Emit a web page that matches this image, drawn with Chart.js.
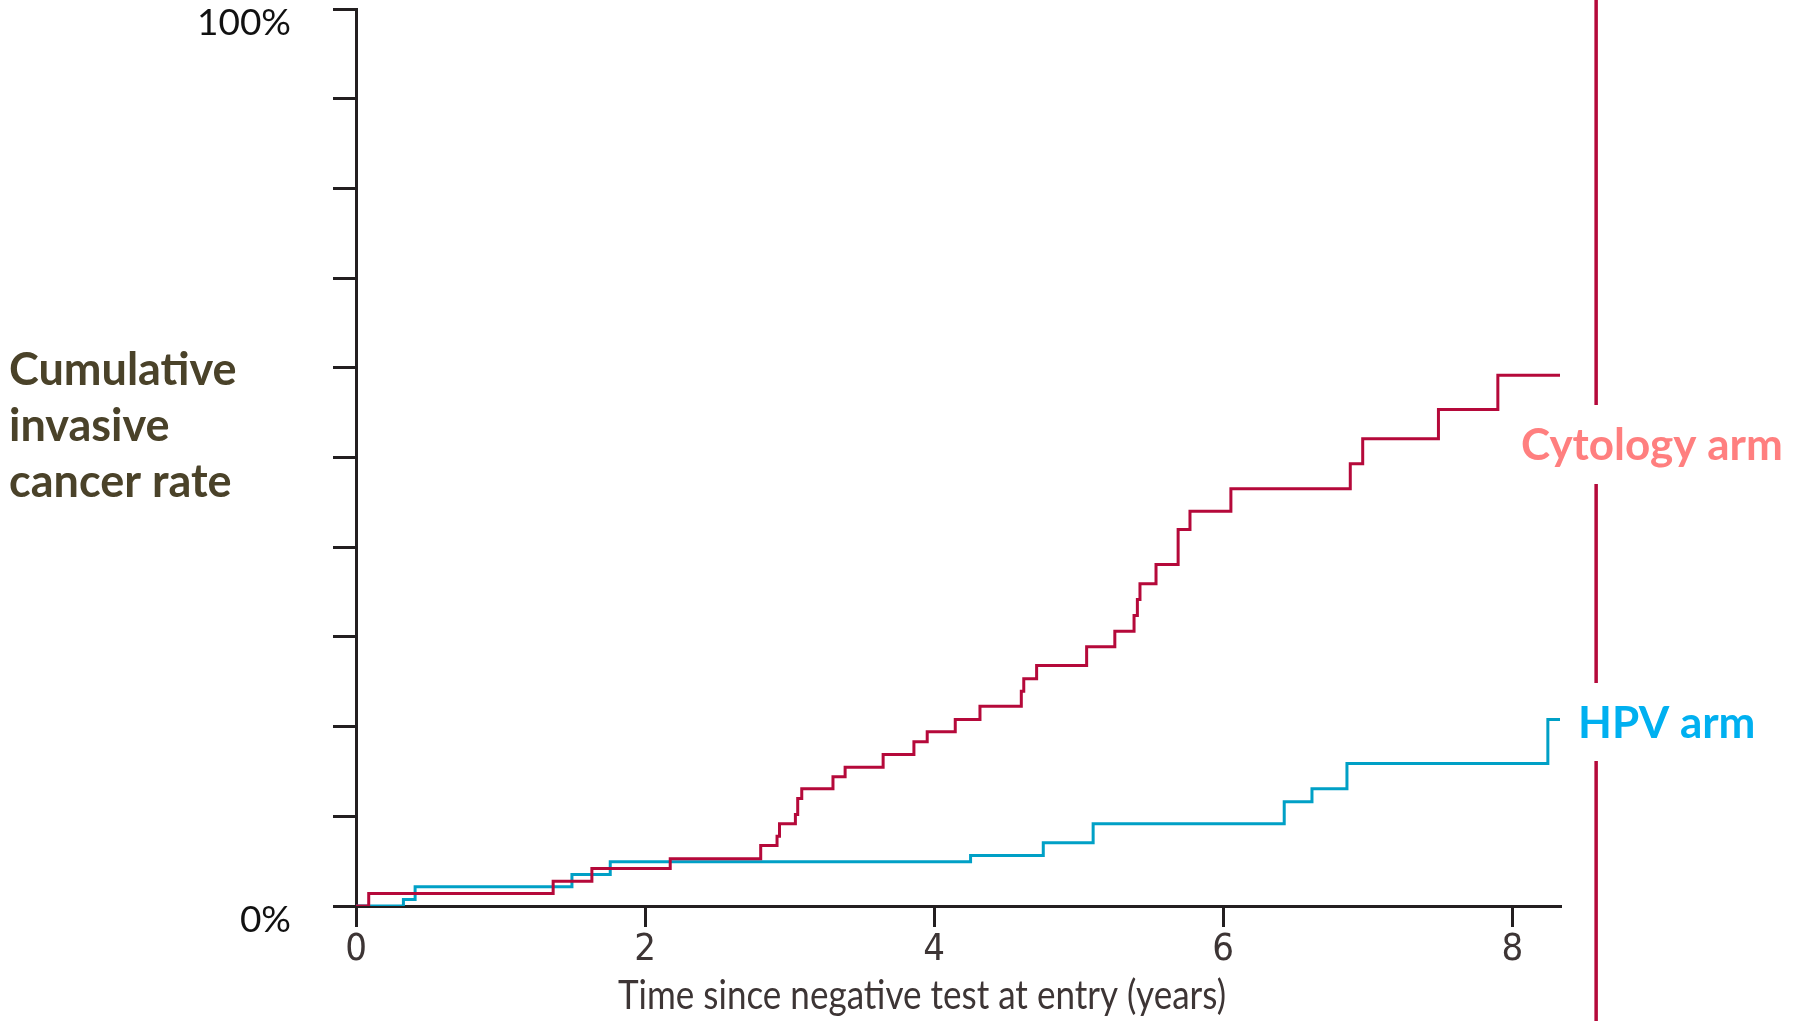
<!DOCTYPE html>
<html>
<head>
<meta charset="utf-8">
<script src="https://cdn.jsdelivr.net/npm/chart.js@4/dist/chart.umd.min.js"></script>
<style>
  html, body { margin: 0; padding: 0; background: #fff; }
  #wrap { width: 1804px; height: 1021px; position: relative; }
</style>
</head>
<body>
<div id="wrap"><canvas id="chart"></canvas></div>
<script>
// step times (years) and cumulative rate (% of axis)
const cytologyYears = [0, 0.088, 1.364, 1.632, 2.174, 2.80, 2.913, 2.93, 3.04, 3.056, 3.084, 3.30, 3.384, 3.647, 3.86, 3.952, 4.146, 4.317, 4.603, 4.62, 4.709, 5.055, 5.25, 5.383, 5.406, 5.424, 5.535, 5.688, 5.77, 6.053, 6.879, 6.965, 7.489, 7.90, 8.33];
const cytologyRate = [0, 1.39, 2.76, 4.18, 5.26, 6.74, 7.78, 9.16, 10.2, 11.98, 13.07, 14.4, 15.47, 16.89, 18.3, 19.42, 20.79, 22.27, 23.95, 25.33, 26.81, 28.9, 30.63, 32.39, 34.17, 35.92, 38.07, 41.97, 44.01, 46.51, 49.3, 52.08, 55.35, 59.17, 59.17];

const hpvYears = [0, 0.328, 0.409, 1.494, 1.759, 4.252, 4.755, 5.10, 6.422, 6.614, 6.856, 8.246, 8.33];
const hpvRate = [0, 0.72, 2.14, 3.51, 4.93, 5.63, 7.05, 9.16, 11.62, 13.07, 15.89, 20.79, 20.79];

const xTickValues = [0, 2, 4, 6, 8];
const yTickLabels = { 0: '0%', 100: '100%' };
const yAxisTitle = ['Cumulative', 'invasive', 'cancer rate'];
const xAxisTitle = 'Time since negative test at entry (years)';
const armLabels = ['Cytology arm', 'HPV arm'];
const armMarkerYear = 8.58;

const axisColor = '#231F20';
const redColor = '#B5093A';
const blueColor = '#00A0C6';

function toPoints(xs, ys) {
  return xs.map((x, i) => ({ x: x, y: ys[i] }));
}

const annotations = {
  id: 'annotations',
  afterDraw(chart) {
    const ctx = chart.ctx;
    const xScale = chart.scales.x;
    ctx.save();

    // left title
    ctx.fillStyle = '#4A4229';
    ctx.font = 'bold 45px Lato';
    ctx.textAlign = 'left';
    ctx.textBaseline = 'alphabetic';
    const baselines = [385, 441, 497];
    yAxisTitle.forEach((line, i) => ctx.fillText(line, 9, baselines[i]));

    // condensed x axis title
    ctx.font = '40px Lato';
    ctx.fillStyle = '#3d3535';
    const w = ctx.measureText(xAxisTitle).width;
    const sx = 608 / w;
    ctx.save();
    ctx.translate(922, 1009);
    ctx.scale(sx, 1);
    ctx.textAlign = 'center';
    ctx.fillText(xAxisTitle, 0, 0);
    ctx.restore();

    // arm marker line with gaps for labels
    const mx = xScale.getPixelForValue(armMarkerYear);
    ctx.strokeStyle = redColor;
    ctx.lineWidth = 3.5;
    ctx.beginPath();
    [[0, 405], [484, 683], [761, 1021]].forEach(seg => {
      ctx.moveTo(mx, seg[0]);
      ctx.lineTo(mx, seg[1]);
    });
    ctx.stroke();

    ctx.font = 'bold 44px Lato';
    ctx.textAlign = 'left';
    ctx.fillStyle = '#FF7F7F';
    ctx.fillText(armLabels[0], 1521, 460);
    ctx.fillStyle = '#00B0F0';
    ctx.fillText(armLabels[1], 1578, 738);

    ctx.restore();
  }
};

const ctx = document.getElementById('chart').getContext('2d');

const data = {
  datasets: [
    {
      label: 'Cytology arm',
      data: toPoints(cytologyYears, cytologyRate),
      borderColor: redColor,
      borderWidth: 3,
      stepped: true,
      pointRadius: 0,
      fill: false,
      borderJoinStyle: 'miter',
      borderCapStyle: 'butt'
    },
    {
      label: 'HPV arm',
      data: toPoints(hpvYears, hpvRate),
      borderColor: blueColor,
      borderWidth: 3,
      stepped: true,
      pointRadius: 0,
      fill: false,
      borderJoinStyle: 'miter',
      borderCapStyle: 'butt'
    }
  ]
};

const config = {
  type: 'line',
  data: data,
  options: {
    responsive: true,
    maintainAspectRatio: false,
    animation: false,
    layout: {
      autoPadding: false,
      padding: { top: 9, right: 244, bottom: 0, left: 0 }
    },
    scales: {
      x: {
        type: 'linear',
        min: 0,
        max: 8.33,
        afterFit: (scale) => {
          scale.height = 115;
          scale.paddingLeft = 0;
          scale.paddingRight = 0;
        },
        afterBuildTicks: (scale) => {
          scale.ticks = xTickValues.map(v => ({ value: v }));
        },
        border: { display: true, color: axisColor, width: 3 },
        grid: {
          display: true,
          drawOnChartArea: false,
          drawTicks: true,
          tickLength: 21,
          color: axisColor,
          lineWidth: 3
        },
        ticks: {
          includeBounds: false,
          padding: 0,
          color: '#3d3535',
          font: { family: "'Liberation Sans Narrow', 'DejaVu Sans Condensed', Lato", size: 38 },
          maxRotation: 0
        }
      },
      y: {
        min: 0,
        max: 100,
        afterFit: (scale) => {
          scale.width = 356;
          scale.paddingTop = 0;
          scale.paddingBottom = 0;
        },
        border: { display: true, color: axisColor, width: 3 },
        grid: {
          display: true,
          drawOnChartArea: false,
          drawTicks: true,
          tickLength: 23,
          color: axisColor,
          lineWidth: 3
        },
        ticks: {
          stepSize: 10,
          padding: 42,
          labelOffset: 14,
          color: '#111',
          font: { family: 'Lato', size: 37 },
          callback: (value) => yTickLabels[value] || ''
        }
      }
    },
    plugins: {
      legend: { display: false },
      tooltip: { enabled: false }
    }
  },
  plugins: [annotations]
};

const chart = new Chart(ctx, config);
</script>
</body>
</html>
